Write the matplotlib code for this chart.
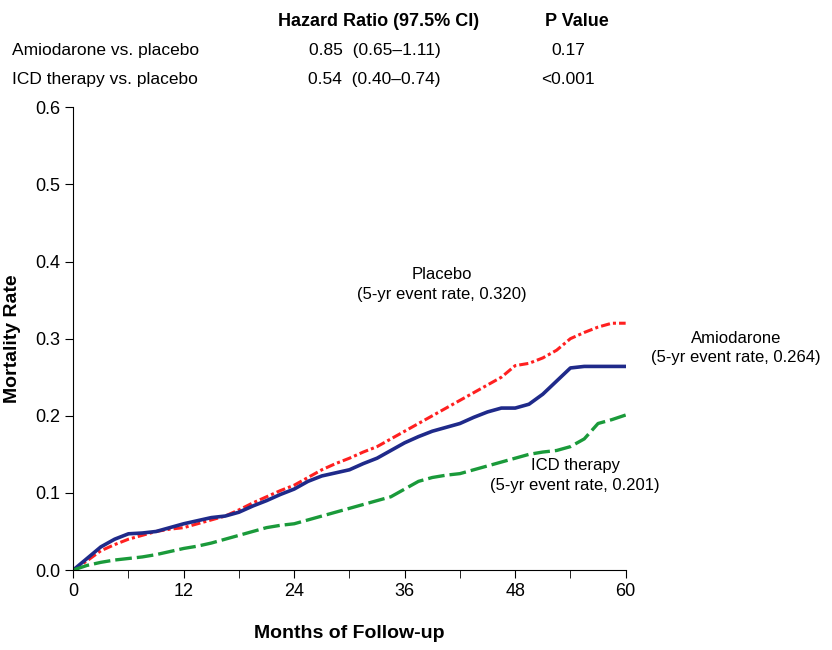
import matplotlib
matplotlib.use("Agg")
import matplotlib.pyplot as plt
from matplotlib.ticker import MultipleLocator

plt.rcParams['font.family'] = ['Liberation Sans', 'DejaVu Sans']

months = [0,1.5,3,4.5,6,7.5,9,10.5,12,13.5,15,16.5,18,19.5,21,22.5,24,25.5,27,28.5,30,31.5,33,34.5,36,37.5,39,40.5,42,43.5,45,46.5,48,49.5,51,52.5,54,55.5,57,58.5,60]
amiodarone = [0,0.015,0.03,0.04,0.047,0.048,0.05,0.055,0.06,0.064,0.068,0.07,0.075,0.083,0.09,0.098,0.105,0.115,0.122,0.126,0.13,0.138,0.145,0.155,0.165,0.173,0.18,0.185,0.19,0.198,0.205,0.21,0.21,0.215,0.228,0.245,0.262,0.264,0.264,0.264,0.264]
placebo = [0,0.012,0.025,0.033,0.04,0.045,0.05,0.053,0.055,0.06,0.065,0.07,0.078,0.087,0.095,0.103,0.11,0.12,0.13,0.138,0.145,0.153,0.16,0.17,0.18,0.19,0.2,0.21,0.22,0.23,0.24,0.25,0.265,0.268,0.275,0.285,0.3,0.308,0.315,0.32,0.32]
icd = [0,0.006,0.01,0.013,0.015,0.017,0.02,0.024,0.028,0.031,0.035,0.04,0.045,0.05,0.055,0.058,0.06,0.065,0.07,0.075,0.08,0.085,0.09,0.095,0.105,0.115,0.12,0.123,0.125,0.13,0.135,0.14,0.145,0.15,0.153,0.155,0.16,0.17,0.19,0.195,0.201]
xticks = [0,12,24,36,48,60]

fig = plt.figure(figsize=(8.32,6.5), dpi=100)
ax = fig.add_axes([0.088,0.123,0.664,0.712])
ax.plot(months, placebo, color='#ff2020', lw=2.2, ls=(0,(3,1,1,1)))
ax.plot(months, amiodarone, color='#1f2a8a', lw=2.6)
ax.plot(months, icd, color='#1a9a3a', lw=2.4, ls=(0,(5,1.5)))
ax.set_xlim(0,60); ax.set_ylim(0,0.6)
ax.set_xticks(xticks)
ax.xaxis.set_minor_locator(MultipleLocator(6))
ax.set_yticks([0,0.1,0.2,0.3,0.4,0.5,0.6])
ax.set_yticklabels(['0.0','0.1','0.2','0.3','0.4','0.5','0.6'])
for s in ['top','right']:
    ax.spines[s].set_visible(False)
ax.tick_params(direction='out', labelsize=13, length=6)
ax.tick_params(which='minor', direction='out', length=6)
ax.set_xlabel('Months of Follow-up', fontsize=14, fontweight='bold', labelpad=18)
ax.set_ylabel('Mortality Rate', fontsize=14, fontweight='bold')
ax.yaxis.set_label_coords(-0.095, 0.5)

ax.text(40, 0.37, 'Placebo\n(5-yr event rate, 0.320)', ha='center', va='center', fontsize=12, linespacing=1.4)
ax.text(72, 0.288, 'Amiodarone\n(5-yr event rate, 0.264)', ha='center', va='center', fontsize=12, clip_on=False, linespacing=1.4)
ax.text(54.5, 0.123, 'ICD therapy\n(5-yr event rate, 0.201)', ha='center', va='center', fontsize=12, linespacing=1.4)

fig.text(0.455, 0.967, 'Hazard Ratio (97.5% CI)', ha='center', va='center', fontsize=13, fontweight='bold')
fig.text(0.693, 0.967, 'P Value', ha='center', va='center', fontsize=13, fontweight='bold')
fig.text(0.015, 0.922, 'Amiodarone vs. placebo', ha='left', va='center', fontsize=12.5)
fig.text(0.015, 0.877, 'ICD therapy vs. placebo', ha='left', va='center', fontsize=12.5)
fig.text(0.45, 0.922, '0.85  (0.65\u20131.11)', ha='center', va='center', fontsize=12.5)
fig.text(0.45, 0.877, '0.54  (0.40\u20130.74)', ha='center', va='center', fontsize=12.5)
fig.text(0.683, 0.922, '0.17', ha='center', va='center', fontsize=12.5)
fig.text(0.683, 0.877, '<0.001', ha='center', va='center', fontsize=12.5)
fig.savefig('out.png', dpi=100)
